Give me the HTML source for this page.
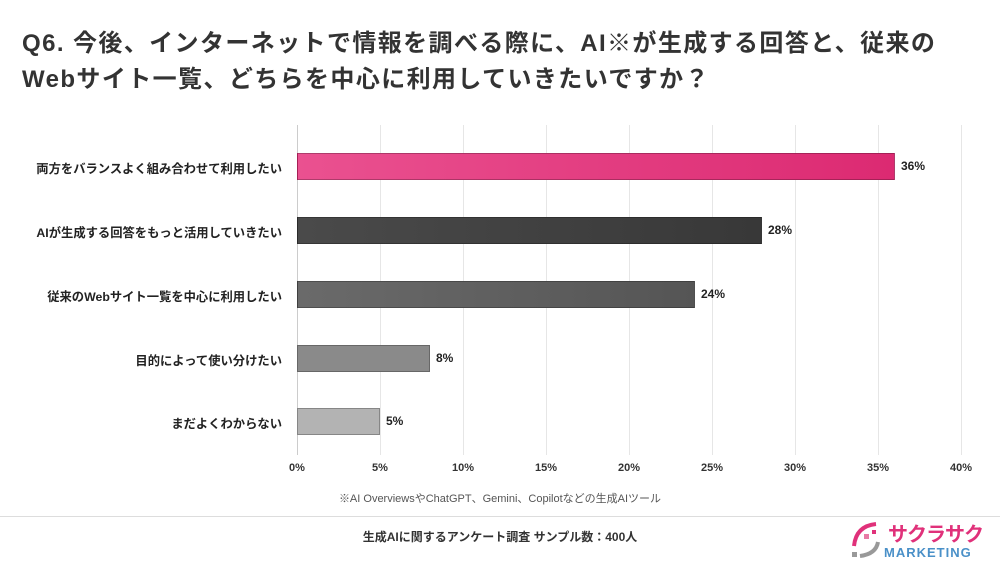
<!DOCTYPE html><html><head><meta charset="utf-8"><style>
body{margin:0;width:1000px;height:563px;background:#fff;font-family:"Liberation Sans","Noto Sans CJK JP",sans-serif;position:relative;overflow:hidden}
.t{position:absolute;left:22px;top:26px;font-size:24px;font-weight:bold;color:#333;line-height:36px;letter-spacing:1.4px;white-space:nowrap}
.g{position:absolute;top:125px;height:330px;width:1px;background:#e6e6e6}
.bar{position:absolute;left:297px;height:27px;box-sizing:border-box;border:1px solid rgba(0,0,0,0.25)}
.lab{position:absolute;right:718px;font-size:12.3px;font-weight:bold;color:#222;text-align:right;white-space:nowrap}
.v{position:absolute;font-size:12px;font-weight:bold;color:#222}
.tk{position:absolute;top:462px;font-size:11px;font-weight:bold;color:#333;width:40px;margin-left:-20px;text-align:center}
</style></head><body>
<div class="t">Q6. 今後、インターネットで情報を調べる際に、AI※が生成する回答と、従来の<br>Webサイト一覧、どちらを中心に利用していきたいですか？</div>
<div class="g" style="left:297px;background:#ccc"></div><div class="g" style="left:380px"></div><div class="g" style="left:463px"></div><div class="g" style="left:546px"></div><div class="g" style="left:629px"></div><div class="g" style="left:712px"></div><div class="g" style="left:795px"></div><div class="g" style="left:878px"></div><div class="g" style="left:961px"></div>
<div class="bar" style="top:153px;width:598px;background:linear-gradient(90deg,#ea5190,#dc2a72)"></div>
<div class="bar" style="top:217px;width:465px;background:linear-gradient(90deg,#4a4a4a,#383838)"></div>
<div class="bar" style="top:281px;width:398px;background:linear-gradient(90deg,#6a6a6a,#555)"></div>
<div class="bar" style="top:345px;width:133px;background:#8a8a8a"></div>
<div class="bar" style="top:408px;width:83px;background:#b3b3b3"></div>
<div class="lab" style="top:159px">両方をバランスよく組み合わせて利用したい</div>
<div class="lab" style="top:223px">AIが生成する回答をもっと活用していきたい</div>
<div class="lab" style="top:287px">従来のWebサイト一覧を中心に利用したい</div>
<div class="lab" style="top:351px">目的によって使い分けたい</div>
<div class="lab" style="top:414px">まだよくわからない</div>
<div class="v" style="left:901px;top:159px">36%</div>
<div class="v" style="left:768px;top:223px">28%</div>
<div class="v" style="left:701px;top:287px">24%</div>
<div class="v" style="left:436px;top:351px">8%</div>
<div class="v" style="left:386px;top:414px">5%</div>
<div class="tk" style="left:297px">0%</div><div class="tk" style="left:380px">5%</div><div class="tk" style="left:463px">10%</div><div class="tk" style="left:546px">15%</div><div class="tk" style="left:629px">20%</div><div class="tk" style="left:712px">25%</div><div class="tk" style="left:795px">30%</div><div class="tk" style="left:878px">35%</div><div class="tk" style="left:961px">40%</div>
<div style="position:absolute;top:490px;left:0;width:1000px;text-align:center;font-size:11px;color:#555">※AI OverviewsやChatGPT、Gemini、Copilotなどの生成AIツール</div>
<div style="position:absolute;top:516px;left:0;width:1000px;height:1px;background:#ddd"></div>
<div style="position:absolute;top:528px;left:0;width:1000px;text-align:center;font-size:12px;font-weight:bold;color:#333">生成AIに関するアンケート調査 サンプル数：400人</div>
<div style="position:absolute;left:888px;top:518px;font-size:20px;font-weight:bold;color:#e0317a;letter-spacing:-1px">サクラサク</div>
<div style="position:absolute;left:884px;top:545px;font-size:13px;font-weight:bold;color:#4a90c8;letter-spacing:1px">MARKETING</div>
<svg style="position:absolute;left:848px;top:520px" width="36" height="40"><path d="M28 4 Q8 6 6 26" stroke="#e0317a" stroke-width="4" fill="none"/><path d="M30 22 Q28 34 12 36" stroke="#999" stroke-width="4" fill="none"/><rect x="16" y="14" width="5" height="5" fill="#e87aa5"/><rect x="24" y="10" width="4" height="4" fill="#e0317a"/><rect x="4" y="32" width="5" height="5" fill="#999"/></svg>
</body></html>
